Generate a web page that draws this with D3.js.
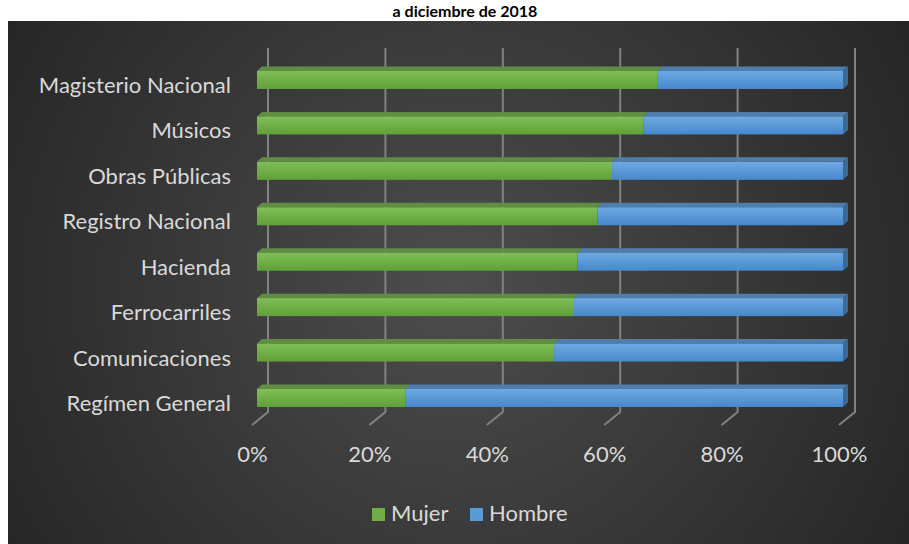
<!DOCTYPE html>
<html>
<head>
<meta charset="utf-8">
<script src="https://cdn.jsdelivr.net/npm/d3@7"></script>
<style>
  body { margin: 0; background: #fff; }
  svg { display: block; }
  text { font-family: Lato, "Open Sans", sans-serif; }
</style>
</head>
<body>
<div id="chart"></div>
<script>
// categories, top to bottom
var categories = ["Magisterio Nacional", "Músicos", "Obras Públicas", "Registro Nacional",
                  "Hacienda", "Ferrocarriles", "Comunicaciones", "Regímen General"];
// share of women (%)
var mujer = [68.4, 65.9, 60.6, 58.1, 54.7, 54.1, 50.7, 25.3];
var hombre = mujer.map(function (v) { return 100 - v; });
var series = ["Mujer", "Hombre"];
var tickValues = [0, 0.2, 0.4, 0.6, 0.8, 1];

var W = 909, H = 544;

var svg = d3.select('#chart').append('svg')
    .attr('width', W).attr('height', H);

var defs = svg.append('defs');
var bg = defs.append('radialGradient').attr('id', 'bg')
    .attr('gradientUnits', 'userSpaceOnUse')
    .attr('cx', 455).attr('cy', 285).attr('r', 560);
bg.append('stop').attr('offset', '0%').attr('stop-color', '#4d4d4d');
bg.append('stop').attr('offset', '100%').attr('stop-color', '#232323');

function vgrad(id, c1, c2) {
    var g = defs.append('linearGradient').attr('id', id)
        .attr('x1', 0).attr('y1', 0).attr('x2', 0).attr('y2', 1);
    g.append('stop').attr('offset', '0%').attr('stop-color', c1);
    g.append('stop').attr('offset', '100%').attr('stop-color', c2);
}
vgrad('gMujer', '#80be58', '#60a038');
vgrad('gHombre', '#6eaae2', '#4788cc');

var colors = {
    Mujer:  { front: 'url(#gMujer)', top: '#5f8d44', side: '#4c7a32', key: '#70ad47' },
    Hombre: { front: 'url(#gHombre)', top: '#4f7eac', side: '#3b6998', key: '#5b9bd5' }
};

// title (second line of the heading)
svg.append('text')
    .attr('x', 465).attr('y', 17)
    .attr('text-anchor', 'middle')
    .style('font-weight', 'bold').style('font-size', '16px')
    .attr('fill', '#000')
    .text('a diciembre de 2018');

// chart area
svg.append('rect')
    .attr('x', 8).attr('y', 21).attr('width', W - 8).attr('height', H - 21)
    .attr('fill', 'url(#bg)');

// scales: back wall, bars, floor front
var xBack = d3.scaleLinear().domain([0, 1]).range([268, 855]);
var xBar = d3.scaleLinear().domain([0, 100]).range([257, 843]);
var xFront = d3.scaleLinear().domain([0, 1]).range([252, 839]);
var y = d3.scalePoint().domain(categories).range([71, 389]);
var barH = 18, dx = 5, dy = -4.5;
var wallTop = 48, wallBottom = 412, floorFront = 425;

// gridlines on the back wall and floor
var grid = svg.append('g');
grid.selectAll('path')
    .data(tickValues)
    .enter().append('path')
    .attr('d', function (d) {
        return 'M' + xBack(d) + ',' + wallTop + 'V' + wallBottom +
               'L' + xFront(d) + ',' + floorFront;
    })
    .attr('fill', 'none')
    .attr('stroke', '#828282')
    .attr('stroke-width', 2);

// x axis labels
var xAxis = d3.axisBottom(xFront)
    .tickValues(tickValues)
    .tickFormat(d3.format('.0%'))
    .tickSize(0).tickPadding(0);
var ax = svg.append('g')
    .attr('transform', 'translate(0,' + 446 + ')')
    .call(xAxis);
ax.select('.domain').remove();
ax.selectAll('text')
    .attr('dy', '0.71em')
    .attr('fill', '#d9d9d9')
    .style('font-size', '22px')
    .style('font-family', 'Lato, sans-serif');

// category labels
svg.append('g').selectAll('text')
    .data(categories)
    .enter().append('text')
    .attr('x', 231)
    .attr('y', function (d) { return y(d) + 22; })
    .attr('text-anchor', 'end')
    .attr('fill', '#d9d9d9')
    .style('font-size', '22px')
    .text(function (d) { return d; });

// stacked 3D bars
var rows = categories.map(function (c, i) {
    return { cat: c, Mujer: mujer[i], Hombre: hombre[i] };
});
var stack = d3.stack().keys(series)(rows);

var bars = svg.append('g');
stack.forEach(function (layer) {
    var key = layer.key;
    var g = bars.append('g');
    layer.forEach(function (seg) {
        var x0 = xBar(seg[0]), x1 = xBar(seg[1]);
        var yt = y(seg.data.cat);
        // top face
        g.append('path')
            .attr('d', 'M' + x0 + ',' + yt + 'L' + (x0 + dx) + ',' + (yt + dy) +
                       'L' + (x1 + dx) + ',' + (yt + dy) + 'L' + x1 + ',' + yt + 'Z')
            .attr('fill', colors[key].top);
        // front face
        g.append('rect')
            .attr('x', x0).attr('y', yt)
            .attr('width', x1 - x0).attr('height', barH)
            .attr('fill', colors[key].front);
        // right side face on the last segment
        if (seg[1] >= 100) {
            g.append('path')
                .attr('d', 'M' + x1 + ',' + yt + 'L' + (x1 + dx) + ',' + (yt + dy) +
                           'L' + (x1 + dx) + ',' + (yt + dy + barH) + 'L' + x1 + ',' + (yt + barH) + 'Z')
                .attr('fill', colors[key].side);
        }
    });
});

// legend
var legend = svg.append('g');
var legX = [372, 470];
series.forEach(function (s, i) {
    legend.append('rect')
        .attr('x', legX[i]).attr('y', 508)
        .attr('width', 13).attr('height', 13)
        .attr('fill', colors[s].key);
    legend.append('text')
        .attr('x', legX[i] + 19).attr('y', 521)
        .attr('fill', '#d9d9d9')
        .style('font-size', '22px')
        .text(s);
});
</script>
</body>
</html>
